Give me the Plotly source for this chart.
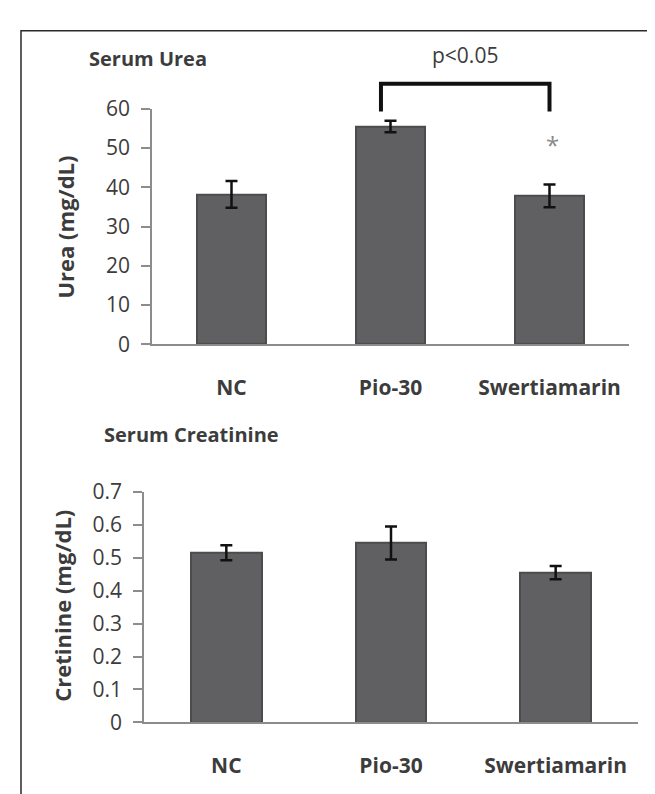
import plotly.graph_objects as go

categories = ["NC", "Pio-30", "Swertiamarin"]
urea_mean = [38.2, 55.5, 37.8]
urea_err = [3.4, 1.45, 2.9]
creat_mean = [0.515, 0.545, 0.455]
creat_err = [0.023, 0.05, 0.02]

urea_ticks = [0, 10, 20, 30, 40, 50, 60]
creat_ticks = [0, 0.1, 0.2, 0.3, 0.4, 0.5, 0.6, 0.7]
creat_ticktext = ["0", "0.1", "0.2", "0.3", "0.4", "0.5", "0.6", "0.7"]

# significance bracket (Pio-30 vs Swertiamarin), in urea units
bracket_x = [0.94, 0.94, 2.0, 2.0]
bracket_y = [59.3, 66.4, 66.4, 59.3]
p_label = "p<0.05"
p_y = 73.8
star_pos = (2.02, 51.0)

W, H = 655, 794
xs = list(range(len(categories)))

FONT = "Open Sans"
TXT = "#3c3c3c"
AX = "#8c8c8c"
BAR = "#606062"
BAREDGE = "#4c4c4e"


def px_x(p):
    return p / W


def px_y(p):
    return 1 - p / H


# top plot geometry (pixels)
TOP_Y0, TOP_Y1 = 333, 89
OVER_Y1 = 20
urea_max = 60
over_max = urea_max * (TOP_Y0 - OVER_Y1) / (TOP_Y0 - TOP_Y1)

fig = go.Figure()

fig.add_trace(go.Bar(
    x=xs, y=urea_mean, width=0.43,
    marker=dict(color=BAR, line=dict(color=BAREDGE, width=2)),
    error_y=dict(type="data", array=urea_err, color="#111111", thickness=2.5, width=6),
    xaxis="x", yaxis="y", showlegend=False, hoverinfo="skip",
))
fig.add_trace(go.Scatter(
    x=bracket_x, y=bracket_y, mode="lines",
    line=dict(color="#111111", width=4),
    xaxis="x3", yaxis="y3", showlegend=False, hoverinfo="skip",
))
fig.add_trace(go.Bar(
    x=xs, y=creat_mean, width=0.43,
    marker=dict(color=BAR, line=dict(color=BAREDGE, width=2)),
    error_y=dict(type="data", array=creat_err, color="#111111", thickness=2.5, width=6),
    xaxis="x2", yaxis="y2", showlegend=False, hoverinfo="skip",
))

common_y = dict(showline=True, linecolor=AX, linewidth=1.5, ticks="outside",
                ticklen=9, tickcolor=AX, tickwidth=1.5, showgrid=False, zeroline=False,
                tickfont=dict(family=FONT, size=21, color=TXT), ticklabelstandoff=7)
common_x = dict(showline=True, linecolor=AX, linewidth=1.5, ticks="", showgrid=False,
                zeroline=False, range=[-0.5, 2.5], tickmode="array", tickvals=xs,
                ticktext=categories,
                tickfont=dict(family=FONT, size=21, color=TXT, weight="bold"),
                ticklabelstandoff=24)

fig.update_layout(
    width=W, height=H,
    margin=dict(l=0, r=0, t=0, b=0),
    paper_bgcolor="white", plot_bgcolor="rgba(0,0,0,0)",
    bargap=0,
    xaxis=dict(domain=[px_x(144), px_x(621)], anchor="y", **common_x),
    yaxis=dict(domain=[px_y(TOP_Y0), px_y(TOP_Y1)], anchor="x", range=[0, urea_max],
               tickvals=urea_ticks, **common_y),
    xaxis3=dict(domain=[px_x(144), px_x(621)], anchor="y3", range=[-0.5, 2.5],
                visible=False),
    yaxis3=dict(domain=[px_y(TOP_Y0), px_y(OVER_Y1)], anchor="x3", range=[0, over_max],
                visible=False),
    xaxis2=dict(domain=[px_x(136), px_x(630)], anchor="y2", **common_x),
    yaxis2=dict(domain=[px_y(725), px_y(486)], anchor="x2", range=[0, 0.7],
                tickvals=creat_ticks, ticktext=creat_ticktext, **common_y),
)

ann = [
    dict(text="Serum Urea", xref="paper", yref="paper", x=px_x(79), y=px_y(37),
         xanchor="left", yanchor="middle", showarrow=False,
         font=dict(family=FONT, size=20, color=TXT, weight="bold")),
    dict(text="Serum Creatinine", xref="paper", yref="paper", x=px_x(94), y=px_y(427),
         xanchor="left", yanchor="middle", showarrow=False,
         font=dict(family=FONT, size=20, color=TXT, weight="bold")),
    dict(text="Urea (mg/dL)", xref="paper", yref="paper", x=px_x(57), y=px_y(212),
         xanchor="center", yanchor="middle", showarrow=False, textangle=-90,
         font=dict(family=FONT, size=22, color=TXT, weight="bold")),
    dict(text="Cretinine (mg/dL)", xref="paper", yref="paper", x=px_x(54), y=px_y(604),
         xanchor="center", yanchor="middle", showarrow=False, textangle=-90,
         font=dict(family=FONT, size=22, color=TXT, weight="bold")),
    dict(text=p_label, xref="x3", yref="y3", x=sum(bracket_x[1:3]) / 2, y=p_y,
         xanchor="center", yanchor="middle", showarrow=False,
         font=dict(family=FONT, size=21, color=TXT)),
    dict(text="*", xref="x3", yref="y3", x=star_pos[0], y=star_pos[1],
         xanchor="center", yanchor="middle", showarrow=False,
         font=dict(family=FONT, size=24, color="#8a8a8a")),
]
fig.update_layout(annotations=ann)

fig.add_shape(type="rect", xref="paper", yref="paper",
              x0=px_x(13), x1=px_x(652), y0=-0.02, y1=px_y(8),
              line=dict(color="#2a2a2a", width=1.5), fillcolor="rgba(0,0,0,0)")

fig.write_html("out.html")
